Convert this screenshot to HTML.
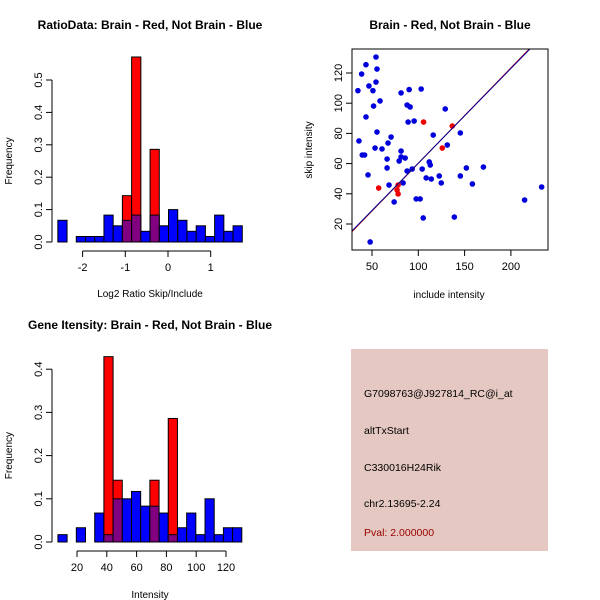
<!DOCTYPE html>
<html><head><meta charset="utf-8"><style>
body{margin:0;background:#fff}
svg{display:block;font-family:"Liberation Sans",sans-serif}
</style></head><body>
<svg id="c" width="600" height="600" viewBox="0 0 600 600"></svg>
<script>
// ---- data ----
const ratioBlue=[0.067,0,0.017,0.017,0.017,0.083,0.05,0.067,0.083,0.033,0.083,0.05,0.1,0.067,0.033,0.05,0.017,0.083,0.033,0.05];
const ratioRed=[0,0,0,0,0,0,0,0.143,0.571,0,0.286,0,0,0,0,0,0,0,0,0];
const ratioStart=-2.58, ratioWidth=0.216;
const ratioXTicks=[-2,-1,0,1];
const ratioYTicks=[0,0.1,0.2,0.3,0.4,0.5];
const intBlue=[0.017,0,0.033,0,0.067,0.017,0.1,0.1,0.117,0.083,0.083,0.067,0.017,0.033,0.067,0.017,0.1,0.017,0.033,0.033];
const intRed=[0,0,0,0,0,0.429,0.143,0,0,0,0.143,0,0.286,0,0,0,0,0,0,0];
const intStart=7.2, intWidth=6.17;
const intXTicks=[20,40,60,80,100,120];
const intYTicks=[0,0.1,0.2,0.3,0.4];
const blueX=[34.8,35.9,38.8,54.3,43.5,55.4,54.3,46.7,51,58.7,51.7,43.5,55.4,39.5,42,53.3,60.8,67.3,70.6,66.3,66.3,45.7,68.4,73.9,48,81.4,90.1,103.1,87.9,91.2,89,95.5,81.4,81.4,85.8,79.3,87.9,93.4,83.6,104.2,108.5,114,111.8,112.9,116.1,129.1,131.3,122.6,124.8,97.7,102,105.3,138.9,145.4,145.4,151.9,158.4,170.3,214.8,233.2];
const blueY=[108.3,75,119.3,130.6,125.5,122.6,114,111.4,108.3,101.5,98.1,90.9,80.9,65.7,65.7,70.3,69.7,73.6,77.6,63,57.1,52.5,45.8,34.6,8.1,106.8,109,109.4,98.8,97.5,87.5,88.2,68.3,64.4,63.7,61.7,55.1,56.4,47.2,56.4,50.5,49.8,61.1,59.1,78.9,96.2,72.3,51.8,47.2,36.6,36.6,24,24.6,80.3,51.8,57.1,46.5,57.7,35.9,44.5];
const redX=[57.2,78.2,77.1,78.2,105.7,125.9,136.7];
const redY=[43.8,45.8,42.5,39.9,87.5,70.3,84.9];
const scXTicks=[50,100,150,200];
const scYTicks=[20,40,60,80,100,120];
const fitBlue=[0.627,-2.4], fitRed=[0.632,-3.0];
const infoLines=["G7098763@J927814_RC@i_at","altTxStart","C330016H24Rik","chr2.13695-2.24"];
const pvalText="Pval: 2.000000";

const svg=document.getElementById('c');
const NS="http://www.w3.org/2000/svg";
function mk(tag,attrs,parent){const e=document.createElementNS(NS,tag);for(const k in attrs)e.setAttribute(k,attrs[k]);(parent||svg).appendChild(e);return e;}
function txt(s,attrs,parent){const e=mk('text',attrs,parent);e.textContent=s;return e;}

function hist(name,title,titleX,titleY,blue,red,start,w,xs,ys,xT,yT,xlab,axY,axX,xlabY){
  const g=mk('g',{});
  
  
  const t=txt(title,{x:titleX,y:titleY,'font-size':12,'font-weight':'bold','text-anchor':'middle'},g);
  
  
  const y0=ys(0);
  for(let i=0;i<blue.length;i++){
    const x1=xs(start+i*w),x2=xs(start+(i+1)*w);
    const b=blue[i],r=red[i],m=Math.min(b,r),M=Math.max(b,r);
    if(M<=0)continue;
    const col=r>b?'#ff0000':'#0000ff';
    const top=mk('rect',{x:x1,y:ys(M),width:x2-x1,height:y0-ys(M),fill:col,stroke:'#000','stroke-width':1},g);
    
    
    if(m>0){
      const p=mk('rect',{x:x1,y:ys(m),width:x2-x1,height:y0-ys(m),fill:'#800080',stroke:'#000','stroke-width':1},g);
      
      
    }
  }
  const xa=mk('g',{},g);
  
  
  mk('line',{x1:xs(xT[0]),x2:xs(xT[xT.length-1]),y1:axY,y2:axY,stroke:'#000'},xa);
  xT.forEach(v=>{mk('line',{x1:xs(v),x2:xs(v),y1:axY,y2:axY+6,stroke:'#000'},xa);
    txt(String(v),{x:xs(v),y:axY+20,'font-size':11,'text-anchor':'middle'},xa);});
  const xl=txt(xlab,{x:150,y:xlabY,'font-size':10,'text-anchor':'middle'},g);
  
  
  const ya=mk('g',{},g);
  
  
  mk('line',{x1:axX,x2:axX,y1:ys(yT[0]),y2:ys(yT[yT.length-1]),stroke:'#000'},ya);
  yT.forEach(v=>{mk('line',{x1:axX,x2:axX-6,y1:ys(v),y2:ys(v),stroke:'#000'},ya);
    txt(v.toFixed(1),{x:0,y:0,'font-size':11,'text-anchor':'middle',transform:`translate(${axX-10},${ys(v)}) rotate(-90)`},ya);});
  const yl=txt('Frequency',{x:0,y:0,'font-size':10,'text-anchor':'middle',transform:`translate(12,${(ys(yT[0])+ys(yT[yT.length-1]))/2}) rotate(-90)`},g);
  
  
}
hist('ratio-histogram','RatioData: Brain - Red, Not Brain - Blue',150,29,ratioBlue,ratioRed,ratioStart,ratioWidth,
  v=>168+v*42.7, v=>242-v*324, ratioXTicks,ratioYTicks,'Log2 Ratio Skip/Include',251,52,297);
hist('intensity-histogram','Gene Itensity: Brain - Red, Not Brain - Blue',150,329,intBlue,intRed,intStart,intWidth,
  v=>77+(v-20)*1.49, v=>542-v*432, intXTicks,intYTicks,'Intensity',551,52,598);

const sg=mk('g',{});


const sx=v=>372+(v-50)*0.926, sy=v=>224-(v-20)*1.51;
const st=txt('Brain - Red, Not Brain - Blue',{x:450,y:29,'font-size':12,'font-weight':'bold','text-anchor':'middle'},sg);


const clip=mk('clipPath',{id:'sc'},sg);mk('rect',{x:352,y:49,width:196,height:201},clip);
const pts=mk('g',{'clip-path':'url(#sc)'},sg);
blueX.forEach((x,i)=>{const c=mk('circle',{cx:sx(x),cy:sy(blueY[i]),r:2.8,fill:'#0000dd'},pts);
  
  });
redX.forEach((x,i)=>{const c=mk('circle',{cx:sx(x),cy:sy(redY[i]),r:2.8,fill:'#ee0000'},pts);
  
  });
[[fitRed,'#cc0000','fit-line-brain'],[fitBlue,'#000099','fit-line-not-brain']].forEach(([f,col,n])=>{
  const l=mk('line',{x1:sx(0),y1:sy(f[1]),x2:sx(300),y2:sy(f[0]*300+f[1]),stroke:col,'stroke-width':1},pts);
  
  });
const box=mk('rect',{x:352,y:49,width:196,height:201,fill:'none',stroke:'#000'},sg);


scXTicks.forEach(v=>{mk('line',{x1:sx(v),x2:sx(v),y1:250,y2:256,stroke:'#000'},sg);
  txt(String(v),{x:sx(v),y:270,'font-size':11,'text-anchor':'middle'},sg);});
scYTicks.forEach(v=>{mk('line',{x1:352,x2:346,y1:sy(v),y2:sy(v),stroke:'#000'},sg);
  txt(String(v),{x:0,y:0,'font-size':11,'text-anchor':'middle',transform:`translate(342,${sy(v)}) rotate(-90)`},sg);});
const sxl=txt('include intensity',{x:449,y:298,'font-size':10,'text-anchor':'middle'},sg);


const syl=txt('skip intensity',{x:0,y:0,'font-size':10,'text-anchor':'middle',transform:'translate(312,150) rotate(-90)'},sg);



const ig=mk('g',{});


mk('rect',{x:351,y:349,width:197,height:202,fill:'#e5c8c2'},ig);
const ys_=[397,434,471,507];
infoLines.forEach((s,i)=>{const t=txt(s,{x:364,y:ys_[i],'font-size':10.5,fill:'#000'},ig);
  
  });
const pv=txt(pvalText,{x:364,y:536,'font-size':10.5,fill:'#990000'},ig);


</script>
</body></html>
